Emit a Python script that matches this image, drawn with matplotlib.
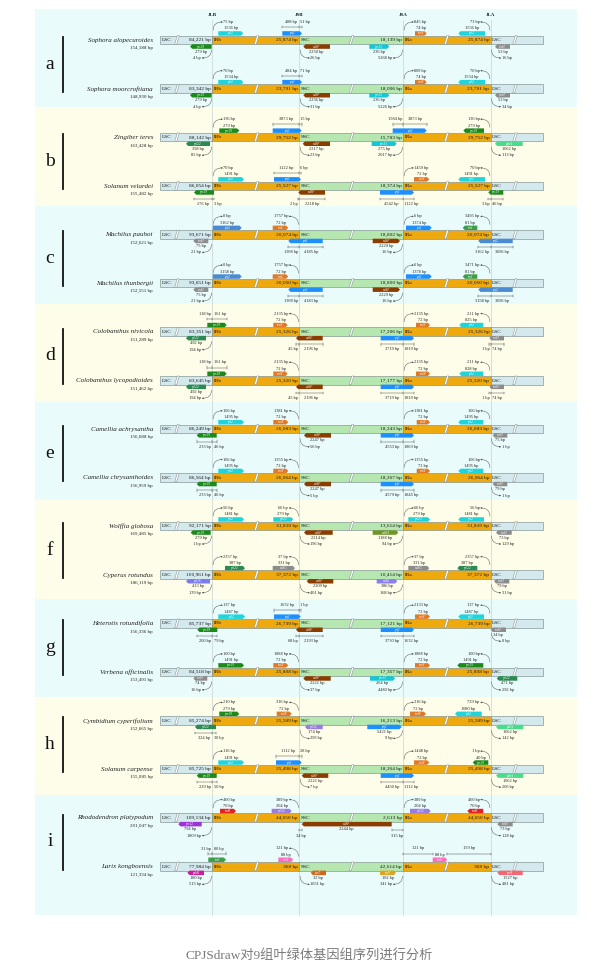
"""
IR boundary comparison (IRscope / CPJSdraw style), 9 pairs of chloroplast genomes
"""
import matplotlib
matplotlib.use("Agg")
import matplotlib.pyplot as plt
from matplotlib.patches import Polygon, Rectangle, FancyArrowPatch
from matplotlib.path import Path

plt.rcParams['font.family'] = ['Liberation Serif', 'Noto Sans CJK SC']

#data
letters = list("abcdefghi")
species = ["Sophora alopecuroides", "Sophora moorcroftiana",
           "Zingiber teres", "Solanum velardei",
           "Machilus pauhoi", "Machilus thunbergii",
           "Colobanthus nivicola", "Colobanthus lycopodioides",
           "Camellia achrysantha", "Camellia chrysanthoides",
           "Wolffia globosa", "Cyperus rotundus",
           "Heterotis rotundifolia", "Verbena officinalis",
           "Cymbidium cyperifolium", "Solanum carpense",
           "Rhododendron platypodum", "Larix kongboensis"]
genome_bp = ["154,188", "148,930", "163,428", "155,482", "152,621", "152,551",
             "151,289", "151,462", "156,688", "156,959", "169,485", "186,119",
             "156,336", "153,491", "152,665", "155,085", "201,047", "121,334"]
lsc_bp = ["84,221", "83,342", "88,142", "86,054", "93,671", "93,651",
          "83,351", "83,645", "86,249", "86,564", "92,171", "100,961",
          "85,737", "84,518", "85,274", "85,725", "109,134", "77,984"]
ir_bp = ["25,874", "23,791", "29,752", "25,527", "20,074", "20,050",
         "25,326", "25,320", "26,083", "26,064", "31,810", "37,372",
         "26,739", "25,808", "25,589", "25,498", "44,650", "368"]
ssc_bp = ["18,139", "18,006", "15,783", "18,374", "18,802", "18,800",
          "17,206", "17,177", "18,243", "18,267", "13,614", "10,414",
          "17,121", "17,357", "16,213", "18,264", "2,613", "42,614"]

# genes at the 8 boundary slots of each genome: (name, length label, gap label)
genes = [
    [("rpl2", "1536 bp", "75 bp"), ("rps19", "279 bp", "4 bp"), ("ycf1", "488 bp", "51 bp"), ("ndhF", "2250 bp", "26 bp"),
     ("rps15", "236 bp", "5268 bp"), ("trnN", "74 bp", "845 bp"), ("rpl2", "1536 bp", "73 bp"), ("trnH", "53 bp", "16 bp")],
    [("rpl2", "1534 bp", "70 bp"), ("rps19", "279 bp", "4 bp"), ("ycf1", "484 bp", "71 bp"), ("ndhF", "2256 bp", "31 bp"),
     ("rps15", "236 bp", "5226 bp"), ("trnN", "74 bp", "809 bp"), ("rpl2", "1534 bp", "70 bp"), ("trnH", "53 bp", "34 bp")],
    [("rps19", "279 bp", "136 bp"), ("rpl22", "358 bp", "85 bp"), ("ycf1", "3873 bp", "15 bp"), ("ndhF", "2217 bp", "23 bp"),
     ("rps15", "275 bp", "2017 bp"), ("ycf1", "1584 bp", "3873 bp"), ("rps19", "279 bp", "136 bp"), ("psbA", "1062 bp", "113 bp")],
    [("rpl2", "1491 bp", "70 bp"), ("rps19", "276 bp", "3 bp"), ("ycf1", "1122 bp", "6 bp"), ("ndhF", "2 bp", "2218 bp"),
     ("ycf1", "4542 bp", "1122 bp"), ("trnN", "72 bp", "1459 bp"), ("rpl2", "1491 bp", "70 bp"), ("rps19", "3 bp", "46 bp")],
    [("ycf2", "3162 bp", "0 bp"), ("trnH", "75 bp", "21 bp"), ("trnL", "72 bp", "1757 bp"), ("ycf1", "1368 bp", "4185 bp"),
     ("ndhF", "2229 bp", "16 bp"), ("ycf1", "1374 bp", "6 bp"), ("trnI", "81 bp", "3495 bp"), ("ycf2", "3162 bp", "3696 bp")],
    [("ycf2", "3158 bp", "0 bp"), ("trnH", "75 bp", "21 bp"), ("trnL", "72 bp", "1757 bp"), ("ycf1", "1368 bp", "4183 bp"),
     ("ndhF", "2229 bp", "16 bp"), ("ycf1", "1378 bp", "6 bp"), ("trnI", "81 bp", "3471 bp"), ("ycf2", "3158 bp", "3696 bp")],
    [("rps19", "118 bp", "161 bp"), ("rpl22", "492 bp", "194 bp"), ("trnN", "72 bp", "2135 bp"), ("ndhF", "45 bp", "2196 bp"),
     ("ycf1", "3719 bp", "1819 bp"), ("trnN", "72 bp", "2135 bp"), ("rpl2", "825 bp", "211 bp"), ("trnH", "1 bp", "74 bp")],
    [("rps19", "118 bp", "161 bp"), ("rpl22", "492 bp", "194 bp"), ("trnN", "72 bp", "2135 bp"), ("ndhF", "45 bp", "2196 bp"),
     ("ycf1", "3719 bp", "1819 bp"), ("trnN", "72 bp", "2135 bp"), ("rpl2", "828 bp", "211 bp"), ("trnH", "1 bp", "74 bp")],
    [("rpl2", "1495 bp", "106 bp"), ("rps19", "233 bp", "46 bp"), ("trnN", "72 bp", "1381 bp"), ("ndhF", "2247 bp", "56 bp"),
     ("ycf1", "4553 bp", "1869 bp"), ("trnN", "72 bp", "1381 bp"), ("rpl2", "1495 bp", "106 bp"), ("trnH", "75 bp", "1 bp")],
    [("rpl2", "1495 bp", "106 bp"), ("rps19", "233 bp", "46 bp"), ("trnN", "72 bp", "1355 bp"), ("ndhF", "2247 bp", "5 bp"),
     ("ycf1", "4579 bp", "1845 bp"), ("trnN", "72 bp", "1355 bp"), ("rpl2", "1495 bp", "106 bp"), ("trnH", "79 bp", "1 bp")],
    [("rpl2", "1481 bp", "56 bp"), ("rps19", "279 bp", "1 bp"), ("rpl23", "279 bp", "66 bp"), ("ndhF", "2214 bp", "196 bp"),
     ("ndhH", "1188 bp", "94 bp"), ("rpl23", "279 bp", "66 bp"), ("rpl2", "1481 bp", "56 bp"), ("trnH", "73 bp", "129 bp")],
    [("rpl22", "387 bp", "2357 bp"), ("rpl16", "413 bp", "139 bp"), ("ndhG", "331 bp", "37 bp"), ("ndhF", "2209 bp", "401 bp"),
     ("ndhE", "386 bp", "168 bp"), ("ndhG", "331 bp", "37 bp"), ("rpl22", "387 bp", "2357 bp"), ("trnH", "79 bp", "31 bp")],
    [("rpl2", "1487 bp", "137 bp"), ("rps19", "200 bp", "79 bp"), ("ycf1", "1632 bp", "1 bp"), ("ndhF", "68 bp", "2193 bp"),
     ("ycf1", "3730 bp", "1632 bp"), ("trnN", "72 bp", "2133 bp"), ("rpl2", "1487 bp", "137 bp"), ("trnH", "34 bp", "0 bp")],
    [("rps19", "1491 bp", "100 bp"), ("trnH", "74 bp", "16 bp"), ("trnN", "72 bp", "1888 bp"), ("ndhF", "2221 bp", "37 bp"),
     ("rps15", "264 bp", "4480 bp"), ("trnN", "72 bp", "1888 bp"), ("rps19", "1491 bp", "100 bp"), ("rpl22", "471 bp", "292 bp")],
    [("rps19", "279 bp", "210 bp"), ("rpl22", "324 bp", "30 bp"), ("trnN", "72 bp", "316 bp"), ("rpl32", "174 bp", "293 bp"),
     ("ycf1", "5421 bp", "9 bp"), ("trnN", "72 bp", "316 bp"), ("rpl2", "1080 bp", "729 bp"), ("psbA", "1062 bp", "142 bp")],
    [("rpl2", "1491 bp", "116 bp"), ("rps19", "229 bp", "50 bp"), ("ycf1", "1112 bp", "28 bp"), ("ndhF", "2221 bp", "7 bp"),
     ("ycf1", "4450 bp", "1112 bp"), ("trnN", "72 bp", "1448 bp"), ("rps19", "40 bp", "1 bp"), ("psbA", "1062 bp", "206 bp")],
    [("trnR", "70 bp", "460 bp"), ("rps12", "794 bp", "1809 bp"), ("rpl32", "204 bp", "389 bp"), ("ndhF", "2244 bp", "34 bp|315 bp"),
     None, ("rpl32", "204 bp", "389 bp"), ("trnR", "70 bp", "460 bp"), ("trnH", "73 bp", "128 bp")],
    [("trnI", "31 bp", "80 bp"), ("psbK", "180 bp", "515 bp"), ("trnS", "88 bp", "121 bp"), ("rps7", "32 bp", "1051 bp"),
     ("trnV", "102 bp", "341 bp"), ("trnS", "88 bp", "121 bp|159 bp"), None, ("rps8", "1527 bp", "481 bp")],
]

gene_col = {"rpl2": "#1fd5dc", "rps19": "#1b8a1b", "rpl22": "#2b8a52", "ycf1": "#1e8fff",
            "ndhF": "#8b3c00", "trnN": "#e07a28", "trnL": "#e07a28", "trnH": "#8c8c8c",
            "psbA": "#4cdb8c", "rps15": "#16c6d2", "ycf2": "#4a8bd2", "trnI": "#3c9e48",
            "rpl23": "#22d2da", "ndhH": "#6e9628", "ndhG": "#8c8c8c", "rpl16": "#7c7cf0",
            "ndhE": "#8a7ef0", "rpl32": "#9a7be0", "trnR": "#e02424", "rps12": "#9e32d8",
            "psbK": "#c8209c", "trnS": "#ff6cc0", "rps7": "#d0691e", "trnV": "#daa520",
            "rps8": "#f06874"}
############

# layout (pixels)
JLB, JSB, JSA, JLA = 212.3, 299.3, 403.3, 490.7
BAR_X0, BAR_X1 = 160, 542.7
SLASHES = [177, 256.5, 351.5, 446.5, 515]
BH = 4.3
GH = 4.5
# slot -> (side, junction); side -1 = above the bar
slots = [(-1, JLB), (1, JLB), (-1, JSB), (1, JSB), (1, JSA), (-1, JSA), (-1, JLA), (1, JLA)]

L_A = [(218.3, 243.3, "arc"), (190, 211.7, "arc"), (282.3, 302, "brk"), (303.3, 330, "arc"),
       (369.3, 389.3, "arc"), (415, 426.7, "arc"), (458.3, 485, "arc"), (495, 510, "arc")]
L_C = [(212.7, 241.7, "arc"), (193.3, 208.3, "arc"), (272.7, 288.3, "arc"), (288.3, 322.7, "brk"),
       (372.7, 400, "arc"), (406, 431.7, "arc"), (462.7, 477.3, "arc"), (478.3, 512.7, "brk")]
L_D = [(207.3, 226.7, "brk"), (186, 206, "arc"), (273.3, 287.7, "arc"), (296, 322.7, "brk"),
       (380.7, 414, "brk"), (416, 430, "arc"), (459.3, 483.3, "arc"), (489.3, 504, "brk")]
L_E = [(218.3, 244, "arc"), (196.7, 216.7, "brk"), (273.3, 288.3, "arc"), (304, 331, "arc"),
       (380.7, 414, "brk"), (416.7, 430, "arc"), (458.3, 483.3, "arc"), (492.7, 507.3, "arc")]
layout = [
    L_A, L_A,
    [(219.3, 239.3, "arc"), (186, 210, "arc"), (272.7, 301.7, "brk"), (302.7, 330, "arc"),
     (371.7, 396.7, "arc"), (392.7, 426.7, "brk"), (463.3, 484, "arc"), (495, 522.7, "arc")],
    [(218.3, 244, "arc"), (194, 214, "brk"), (274, 301, "brk"), (298.3, 325, "brk"),
     (380, 414, "brk"), (414, 429.3, "arc"), (458.3, 485, "arc"), (488.3, 503.3, "brk")],
    L_C, L_C, L_D, L_D, L_E, L_E,
    [(218.3, 244, "arc"), (190.7, 210.7, "arc"), (273.3, 293.3, "arc"), (304, 332.7, "arc"),
     (372.7, 398.3, "arc"), (408.3, 430, "arc"), (458.3, 484, "arc"), (496, 511.7, "arc")],
    [(225, 245, "arc"), (186, 210, "arc"), (272.7, 295, "arc"), (306.7, 333.3, "arc"),
     (376.7, 397.3, "arc"), (408.3, 429.3, "arc"), (457.3, 477.3, "arc"), (494, 509.3, "arc")],
    [(218.3, 245, "arc"), (197.3, 217.3, "brk"), (274, 300.7, "brk"), (296, 322.7, "brk"),
     (380.7, 414, "brk"), (415, 430, "arc"), (458.3, 484, "arc"), (490.7, 506, "arc")],
    [(218.3, 244, "arc"), (193.3, 207.3, "arc"), (273.3, 288.3, "arc"), (303.3, 330.7, "arc"),
     (370, 395, "arc"), (415, 430, "arc"), (457.3, 483.3, "arc"), (496.7, 517.3, "arc")],
    [(219.3, 239.3, "arc"), (195, 216, "brk"), (276.7, 291.7, "arc"), (305, 322.7, "arc"),
     (367.3, 401.7, "arc"), (410, 426, "arc"), (455, 481.7, "arc"), (496, 523.3, "arc")],
    [(218.3, 244, "arc"), (196.7, 216.7, "brk"), (276, 301.7, "brk"), (301.7, 328.3, "arc"),
     (380.7, 414, "brk"), (414, 429.3, "arc"), (472.7, 488.3, "arc"), (496, 523.3, "arc")],
    [(220, 236, "arc"), (178.3, 201.7, "arc"), (271.7, 291.7, "arc"), (301.7, 391.7, "gap"),
     None, (410, 430.7, "arc"), (467.3, 483.3, "arc"), (497.3, 512.7, "arc")],
    [(208.3, 226, "brk"), (187.3, 204, "arc"), (278.3, 293.3, "arc"), (310.7, 326, "arc"),
     (380, 396, "arc"), (432.7, 447.3, "gap"), None, (497.3, 522.7, "arc")],
]

LINE = "#555555"
SMALL = 3.2

fig = plt.figure(figsize=(6.12, 9.75), dpi=100)
ax = fig.add_axes([0, 0, 1, 1])
ax.set_xlim(0, 612)
ax.set_ylim(975, 0)
ax.axis("off")


def small(x, y, s, ha="center"):
    ax.text(x, y, s, fontsize=SMALL, ha=ha, va="center", color="#222222")


def draw_gene(x0, x1, yc, side, name):
    if side < 0:
        ya, yb = yc - BH - GH, yc - BH
    else:
        ya, yb = yc + BH, yc + BH + GH
    ym = (ya + yb) / 2
    xm = (x0 + x1) / 2
    right = (side < 0 and xm < 447) or (side > 0 and 351 <= xm < 447)
    t = min(2.2, (x1 - x0) / 3)
    if right:
        pts = [(x0, ya), (x1 - t, ya), (x1, ym), (x1 - t, yb), (x0, yb)]
    else:
        pts = [(x0 + t, ya), (x1, ya), (x1, yb), (x0 + t, yb), (x0, ym)]
    ax.add_patch(Polygon(pts, closed=True, facecolor=gene_col[name], edgecolor="none", zorder=4))
    ax.text(xm, ym, name, fontsize=2.4, style="italic", color="white", ha="center", va="center", zorder=5)


def draw_arc(xj, yc, side, sgn, text):
    y0 = yc + side * 9.8
    y1 = yc + side * 18
    xe = xj + sgn * 10.5
    path = Path([(xj + sgn * 0.8, y0), (xj + sgn * 0.8, y1), (xe, y1)],
                [Path.MOVETO, Path.CURVE3, Path.CURVE3])
    ax.add_patch(FancyArrowPatch(path=path, arrowstyle="-|>", mutation_scale=2.2, lw=0.35,
                                 color=LINE, shrinkA=0, shrinkB=0, zorder=3))
    small(xe + sgn * 0.6, y1, text, ha="left" if sgn > 0 else "right")


def draw_bracket(xa, xb, y, ticks):
    ax.plot([xa, xb], [y, y], color=LINE, lw=0.35, zorder=3)
    for xt in ticks:
        ax.plot([xt, xt], [y - 1.2, y + 1.2], color=LINE, lw=0.35, zorder=3)


def part_label(xa, xb, xj, y, text, left):
    if xb - xa > 16:
        small((xa + xb) / 2, y, text)
    elif left:
        small(xj - 1.2, y, text, ha="right")
    else:
        small(xj + 1.2, y, text, ha="left")


# panel backgrounds
for k in range(9):
    top = 9 + 98.25 * k
    h = 98.25 if k < 8 else 915 - top
    ax.add_patch(Rectangle((35, top), 542, h, facecolor="#eafbfc" if k % 2 == 0 else "#fefde9",
                           edgecolor="none", zorder=0))

for xj, lab in zip([JLB, JSB, JSA, JLA], ["JLB", "JSB", "JSA", "JLA"]):
    ax.plot([xj, xj], [20, 915], color="#c9d3d3", lw=0.5, zorder=1)
    ax.text(xj, 15.5, lab, fontsize=3.6, fontweight="bold", ha="center", va="center", color="#222222")

for r in range(18):
    k = r // 2
    yc = 40 + 97.2 * k + 48.7 * (r % 2)

    if r % 2 == 0:
        ax.text(50, yc + 24.3, letters[k], fontsize=14, ha="center", va="center", color="#111111")
        ax.plot([63, 63], [yc - 3, yc + 52], color="#111111", lw=1.3, zorder=2)

    ax.text(153, yc + 0.3, species[r], fontsize=5, style="italic", ha="right", va="center", color="#222222")
    ax.text(153, yc + 8.3, genome_bp[r] + " bp", fontsize=3.6, ha="right", va="center", color="#222222")

    segs = [(BAR_X0, JLB, "#d3e9ed"), (JLB, JSB, "#eea90f"), (JSB, JSA, "#b6e7b0"),
            (JSA, JLA, "#eea90f"), (JLA, BAR_X1, "#d3e9ed")]
    for xa, xb, c in segs:
        ax.add_patch(Rectangle((xa, yc - BH), xb - xa, 2 * BH, facecolor=c, edgecolor="#7f8f8f",
                               lw=0.45, zorder=2))
    for xs in SLASHES:
        ax.add_patch(Polygon([(xs - 2.3, yc + BH), (xs - 0.3, yc + BH), (xs + 2.3, yc - BH), (xs + 0.3, yc - BH)],
                             closed=True, facecolor="white", edgecolor="#7f8f8f", lw=0.35, zorder=2.5))
    bar_txt = [(BAR_X0 + 2, "LSC", "left"), (JLB - 1.5, lsc_bp[r] + " bp", "right"),
               (JLB + 1.5, "IRb", "left"), (JSB - 1.5, ir_bp[r] + " bp", "right"),
               (JSB + 1.5, "SSC", "left"), (JSA - 1.5, ssc_bp[r] + " bp", "right"),
               (JSA + 1.5, "IRa", "left"), (JLA - 1.5, ir_bp[r] + " bp", "right"),
               (JLA + 1.5, "LSC", "left")]
    for xt, s, ha in bar_txt:
        ax.text(xt, yc + 0.3, s, fontsize=3.9, ha=ha, va="center", color="#1a1a1a", zorder=3)

    for slot in range(8):
        g = genes[r][slot]
        lay = layout[r][slot]
        if g is None or lay is None:
            continue
        name, lab1, lab2 = g
        x0, x1, style = lay
        side, xj = slots[slot]
        draw_gene(x0, x1, yc, side, name)
        xm = (x0 + x1) / 2
        if style == "arc":
            sgn = 1 if xm > xj else -1
            small(xm, yc + side * 11.5, lab1)
            draw_arc(xj, yc, side, sgn, lab2)
        elif style == "brk":
            yb = yc + side * 12.8
            yt = yc + side * 17.8
            draw_bracket(x0, x1, yb, [x0, xj, x1])
            part_label(x0, xj, xj, yt, lab1, True)
            part_label(xj, x1, xj, yt, lab2, False)
        else:
            ja, jb = (JSB, JSA) if slot == 3 else (JSA, JLA)
            gl, gr = lab2.split("|")
            small(xm, yc + side * 11.5, lab1)
            yb = yc + side * 12.5
            yt = yc + side * 18
            draw_bracket(ja, x0, yb, [ja, x0])
            draw_bracket(x1, jb, yb, [x1, jb])
            small((ja + x0) / 2, yt, gl)
            small((x1 + jb) / 2, yt, gr)

fig.text(309 / 612, 1 - 955 / 975, "CPJSdraw对9组叶绿体基因组序列进行分析", fontsize=9.5,
         color="#7a7a7a", ha="center", va="center")

fig.savefig("out.png", dpi=100)
